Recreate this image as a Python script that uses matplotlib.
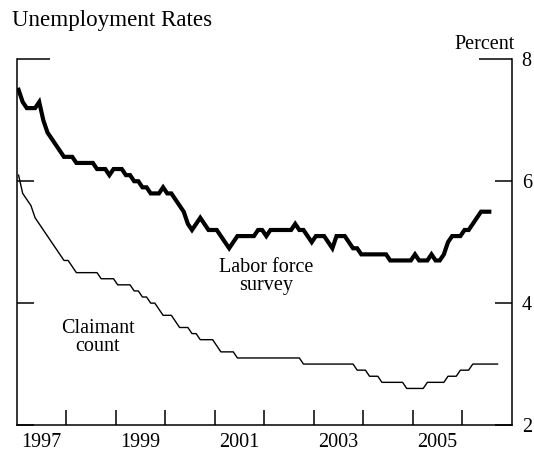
import matplotlib
matplotlib.use('Agg')
from matplotlib import pyplot as plt
import numpy as np

plt.rcParams['font.family'] = ['Liberation Serif', 'DejaVu Serif']

# Monthly values starting January 1997
lfs = [7.5, 7.3, 7.2, 7.2, 7.2, 7.3, 7.0, 6.8, 6.7, 6.6, 6.5, 6.4,
       6.4, 6.4, 6.3, 6.3, 6.3, 6.3, 6.3, 6.2, 6.2, 6.2, 6.1, 6.2,
       6.2, 6.2, 6.1, 6.1, 6.0, 6.0, 5.9, 5.9, 5.8, 5.8, 5.8, 5.9,
       5.8, 5.8, 5.7, 5.6, 5.5, 5.3, 5.2, 5.3, 5.4, 5.3, 5.2, 5.2,
       5.2, 5.1, 5.0, 4.9, 5.0, 5.1, 5.1, 5.1, 5.1, 5.1, 5.2, 5.2,
       5.1, 5.2, 5.2, 5.2, 5.2, 5.2, 5.2, 5.3, 5.2, 5.2, 5.1, 5.0,
       5.1, 5.1, 5.1, 5.0, 4.9, 5.1, 5.1, 5.1, 5.0, 4.9, 4.9, 4.8,
       4.8, 4.8, 4.8, 4.8, 4.8, 4.8, 4.7, 4.7, 4.7, 4.7, 4.7, 4.7,
       4.8, 4.7, 4.7, 4.7, 4.8, 4.7, 4.7, 4.8, 5.0, 5.1, 5.1, 5.1,
       5.2, 5.2, 5.3, 5.4, 5.5, 5.5, 5.5]

claimant = [6.1, 5.8, 5.7, 5.6, 5.4, 5.3, 5.2, 5.1, 5.0, 4.9, 4.8, 4.7,
            4.7, 4.6, 4.5, 4.5, 4.5, 4.5, 4.5, 4.5, 4.4, 4.4, 4.4, 4.4,
            4.3, 4.3, 4.3, 4.3, 4.2, 4.2, 4.1, 4.1, 4.0, 4.0, 3.9, 3.8,
            3.8, 3.8, 3.7, 3.6, 3.6, 3.6, 3.5, 3.5, 3.4, 3.4, 3.4, 3.4,
            3.3, 3.2, 3.2, 3.2, 3.2, 3.1, 3.1, 3.1, 3.1, 3.1, 3.1, 3.1,
            3.1, 3.1, 3.1, 3.1, 3.1, 3.1, 3.1, 3.1, 3.1, 3.0, 3.0, 3.0,
            3.0, 3.0, 3.0, 3.0, 3.0, 3.0, 3.0, 3.0, 3.0, 3.0, 2.9, 2.9,
            2.9, 2.8, 2.8, 2.8, 2.7, 2.7, 2.7, 2.7, 2.7, 2.7, 2.6, 2.6,
            2.6, 2.6, 2.6, 2.7, 2.7, 2.7, 2.7, 2.7, 2.8, 2.8, 2.8, 2.9,
            2.9, 2.9, 3.0, 3.0, 3.0, 3.0, 3.0, 3.0, 3.0]

year_labels = ['1997', '1999', '2001', '2003', '2005']

# mid-month positions in decimal years
x_lfs = 1997 + (np.arange(len(lfs)) + 0.5) / 12
x_cc = 1997 + (np.arange(len(claimant)) + 0.5) / 12

fig = plt.figure(figsize=(5.34, 4.53), dpi=100)
ax = fig.add_axes([0.0309, 0.0618, 0.9279, 0.8072])

ax.plot(x_lfs, lfs, color='black', lw=3.0, solid_joinstyle='miter')
ax.plot(x_cc, claimant, color='black', lw=1.0)

ax.set_xlim(1997, 2007)
ax.set_ylim(2, 8)

for s in ['left', 'right', 'bottom']:
    ax.spines[s].set_linewidth(1.1)
ax.spines['top'].set_visible(False)

# x axis: ticks at year boundaries, labels at mid-year
ax.set_xticks(np.arange(1998, 2007))
ax.set_xticklabels([])
ax.set_xticks([int(y) + 0.5 for y in year_labels], minor=True)
ax.set_xticklabels(year_labels, minor=True)
ax.tick_params(axis='x', which='major', direction='in', length=11, width=1.1)
ax.tick_params(axis='x', which='minor', length=0, pad=6, labelsize=14.5)

# y axis: long tick at the top, short ones below, labels on the right
ax.set_yticks([8])
ax.set_yticks([2, 4, 6], minor=True)
ax.yaxis.set_major_formatter(plt.FuncFormatter(lambda v, p: '%d' % v))
ax.yaxis.set_minor_formatter(plt.FuncFormatter(lambda v, p: '%d' % v))
ax.tick_params(axis='y', which='major', direction='in', length=24, width=1.1,
               left=True, right=True, labelleft=False, labelright=True,
               pad=7, labelsize=14.5)
ax.tick_params(axis='y', which='minor', direction='in', length=12, width=1.1,
               left=True, right=True, labelleft=False, labelright=True,
               pad=7, labelsize=14.5)

ax.text(2002.04, 4.44, 'Labor force\nsurvey', ha='center', va='center',
        fontsize=14.5, linespacing=0.95)
ax.text(1998.64, 3.44, 'Claimant\ncount', ha='center', va='center',
        fontsize=14.5, linespacing=0.95)

fig.text(0.022, 0.9426, 'Unemployment Rates', ha='left', va='baseline', fontsize=16.6)
fig.text(0.9644, 0.8918, 'Percent', ha='right', va='baseline', fontsize=14.5)

fig.savefig('out.png', dpi=100)
